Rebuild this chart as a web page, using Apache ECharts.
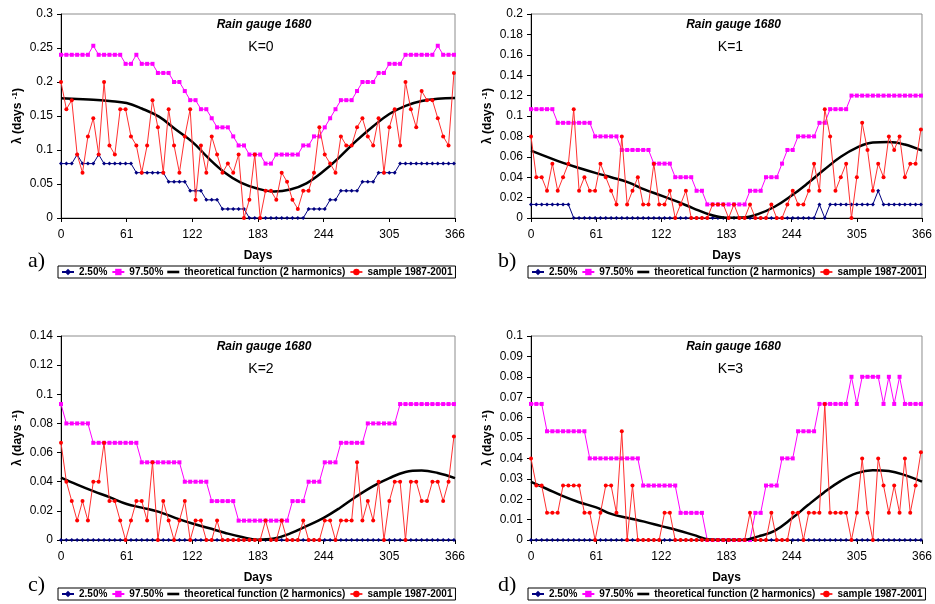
<!DOCTYPE html>
<html><head><meta charset="utf-8">
<script src="https://cdn.jsdelivr.net/npm/echarts@6/dist/echarts.min.js"></script>
<style>html,body{margin:0;padding:0;background:#fff}#c{width:935px;height:604px}</style>
</head><body><div id="c"></div>
<script>
// ---- data ----
const days = [0,5,10,15,20,25,30,35,40,45,50,55,60,65,70,75,80,85,90,95,100,105,110,115,120,125,130,135,140,145,150,155,160,165,170,175,180,185,190,195,200,205,210,215,220,225,230,235,240,245,250,255,260,265,270,275,280,285,290,295,300,305,310,315,320,325,330,335,340,345,350,355,360,365];
const xTicks = [0,61,122,183,244,305,366];
const seriesNames = ['2.50%','97.50%','theoretical function (2 harmonics)','sample 1987-2001'];
const panelTitles = ['K=0','K=1','K=2','K=3'];
const panelLetters = ['a)','b)','c)','d)'];
const theoDays = [0,15,30,45,61,75,91,106,122,137,152,167,183,198,213,228,244,259,274,290,305,320,335,350,366];

// K=0
const aLow = [0.08,0.08,0.08,0.0933,0.08,0.08,0.08,0.0933,0.08,0.08,0.08,0.08,0.08,0.08,
 0.0667,0.0667,0.0667,0.0667,0.0667,0.0667,0.0533,0.0533,0.0533,0.0533,0.04,0.04,0.04,
 0.0267,0.0267,0.0267,0.0133,0.0133,0.0133,0.0133,0.0133,0,0,0,0,0,0,0,0,0,0,0,
 0.0133,0.0133,0.0133,0.0133,0.0267,0.0267,0.04,0.04,0.04,0.04,0.0533,0.0533,0.0533,
 0.0667,0.0667,0.0667,0.0667,0.08,0.08,0.08,0.08,0.08,0.08,0.08,0.08,0.08,0.08,0.08];
const aHigh = [0.24,0.24,0.24,0.24,0.24,0.24,0.2533,0.24,0.24,0.24,0.24,0.24,0.2267,0.2267,0.24,
 0.2267,0.2267,0.2267,0.2133,0.2133,0.2133,0.2,0.2,0.1867,0.1733,0.1733,0.16,0.16,0.1467,
 0.1333,0.1333,0.1333,0.12,0.1067,0.1067,0.0933,0.0933,0.0933,0.08,0.08,
 0.0933,0.0933,0.0933,0.0933,0.0933,0.1067,0.1067,0.12,0.12,0.1333,0.1467,0.16,
 0.1733,0.1733,0.1733,0.1867,0.2,0.2,0.2,0.2133,0.2133,0.2267,0.2267,0.2267,
 0.24,0.24,0.24,0.24,0.24,0.24,0.2533,0.24,0.24,0.24];
const aTheo = [0.176,0.175,0.174,0.172,0.169,0.161,0.149,0.131,0.112,0.088,0.067,0.052,0.043,0.039,0.042,0.051,0.069,0.09,0.113,0.135,0.153,0.165,0.172,0.1755,0.1765];
const aSample = [0.2,0.16,0.1733,0.0933,0.0667,0.12,0.1467,0.0933,0.2,0.1067,
 0.0933,0.16,0.16,0.12,0.1067,0.0667,0.1067,0.1733,0.1333,0.0667,
 0.16,0.1067,0.0667,0.12,0.16,0.0267,0.1067,0.0667,0.12,0.0933,
 0.0667,0.08,0.0667,0.0933,0,0.0267,0.0933,0,0.04,0.04,
 0.0267,0.0667,0.0533,0.0267,0.0133,0.04,0.04,0.0667,0.1333,0.0933,
 0.08,0.0667,0.12,0.1067,0.1067,0.1333,0.1467,0.12,0.1067,0.1467,
 0.0667,0.1333,0.16,0.1067,0.2,0.16,0.1333,0.1867,0.1733,0.1733,
 0.1467,0.12,0.1067,0.2133];

// K=1
const bLow = [0.0133,0.0133,0.0133,0.0133,0.0133,0.0133,0.0133,0.0133,
 0,0,0,0,0,0,0,0,0,0,0,0,0,0,0,0,0,0,0,0,0,0,0,0,0,0,0,0,0,0,0,0,0,0,0,0,0,0,0,0,0,0,0,0,0,0,
 0.0133,0,0.0133,0.0133,0.0133,0.0133,0.0133,0.0133,0.0133,0.0133,0.0133,0.0267,
 0.0133,0.0133,0.0133,0.0133,0.0133,0.0133,0.0133,0.0133];
const bHigh = [0.1067,0.1067,0.1067,0.1067,0.1067,0.0933,0.0933,0.0933,0.0933,0.0933,0.0933,0.0933,
 0.08,0.08,0.08,0.08,0.08,0.0667,0.0667,0.0667,0.0667,0.0667,0.0667,0.0533,0.0533,0.0533,0.0533,
 0.04,0.04,0.04,0.04,0.0267,0.0267,0.0133,0.0133,0.0133,0.0133,0.0133,0.0133,0.0133,0.0133,
 0.0267,0.0267,0.0267,0.04,0.04,0.04,0.0533,0.0667,0.0667,0.08,0.08,0.08,0.08,0.0933,0.0933,
 0.1067,0.1067,0.1067,0.1067,0.12,0.12,0.12,0.12,0.12,0.12,0.12,0.12,0.12,0.12,0.12,0.12,0.12,0.12];
const bTheo = [0.066,0.06,0.054,0.049,0.044,0.04,0.035,0.028,0.022,0.016,0.0095,0.0035,0.0003,0.0005,0.004,0.011,0.022,0.034,0.047,0.06,0.069,0.074,0.0745,0.072,0.066];
const bSample = [0.08,0.04,0.04,0.0267,0.0533,0.0267,0.04,0.0533,0.1067,0.0267,
 0.04,0.0267,0.0267,0.0533,0.04,0.0267,0.0133,0.08,0.0133,0.0267,
 0.04,0.0133,0.0133,0.0533,0.0133,0.0133,0.0267,0,0.0133,0.0267,
 0,0,0,0,0.0133,0.0133,0.0133,0,0.0133,0,
 0,0.0133,0,0,0,0.0133,0,0,0.0133,0.0267,
 0.0133,0.0133,0.0267,0.0533,0.0267,0.1067,0.08,0.0267,0.04,0.0533,
 0,0.04,0.0933,0.0667,0.0267,0.0533,0.04,0.08,0.0667,0.08,
 0.04,0.0533,0.0533,0.0867];

// K=2
const cLow = [0,0,0,0,0,0,0,0,0,0,0,0,0,0,0,0,0,0,0,0,0,0,0,0,0,0,0,0,0,0,0,0,0,0,0,0,0,
 0,0,0,0,0,0,0,0,0,0,0,0,0,0,0,0,0,0,0,0,0,0,0,0,0,0,0,0,0,0,0,0,0,0,0,0,0];
const cHigh = [0.0933,0.08,0.08,0.08,0.08,0.08,0.0667,0.0667,0.0667,0.0667,0.0667,0.0667,0.0667,0.0667,0.0667,
 0.0533,0.0533,0.0533,0.0533,0.0533,0.0533,0.0533,0.0533,0.04,0.04,0.04,0.04,0.04,
 0.0267,0.0267,0.0267,0.0267,0.0267,0.0133,0.0133,0.0133,0.0133,0.0133,0.0133,0.0133,0.0133,0.0133,0.0133,
 0.0267,0.0267,0.0267,0.04,0.04,0.04,0.0533,0.0533,0.0533,0.0667,0.0667,0.0667,0.0667,0.0667,
 0.08,0.08,0.08,0.08,0.08,0.08,0.0933,0.0933,0.0933,0.0933,0.0933,0.0933,0.0933,0.0933,0.0933,0.0933,0.0933];
const cTheo = [0.0428,0.038,0.0335,0.0294,0.0247,0.0222,0.0193,0.0152,0.0113,0.0082,0.005,0.0022,0.0002,0.001,0.0045,0.0095,0.0152,0.022,0.0297,0.037,0.0425,0.0467,0.0477,0.046,0.0425];
const cSample = [0.0667,0.04,0.0267,0.0133,0.0267,0.0133,0.04,0.04,0.0667,0.0267,
 0.0267,0.0133,0,0.0133,0.0267,0.0267,0.0133,0.0533,0,0.0267,
 0.0133,0,0.0133,0.0267,0,0.0133,0.0133,0,0,0.0133,
 0,0,0,0,0,0,0,0,0.0133,0,
 0,0.0133,0,0,0,0.0133,0,0,0,0.0133,
 0.0133,0,0.0133,0.0133,0.0133,0.0533,0.0133,0.0267,0.0133,0.04,
 0,0.0267,0.04,0.04,0,0.04,0.04,0.0267,0.0267,0.04,
 0.04,0.0267,0.04,0.071];

// K=3
const dLow = [0,0,0,0,0,0,0,0,0,0,0,0,0,0,0,0,0,0,0,0,0,0,0,0,0,0,0,0,0,0,0,0,0,0,0,0,0,
 0,0,0,0,0,0,0,0,0,0,0,0,0,0,0,0,0,0,0,0,0,0,0,0,0,0,0,0,0,0,0,0,0,0,0,0,0];
const dHigh = [0.0667,0.0667,0.0667,0.0533,0.0533,0.0533,0.0533,0.0533,0.0533,0.0533,0.0533,
 0.04,0.04,0.04,0.04,0.04,0.04,0.04,0.04,0.04,0.04,0.0267,0.0267,0.0267,0.0267,0.0267,0.0267,0.0267,
 0.0133,0.0133,0.0133,0.0133,0.0133,0,0,0,0,0,0,0,0,0,0.0133,0.0133,0.0267,0.0267,0.0267,
 0.04,0.04,0.04,0.0533,0.0533,0.0533,0.0533,0.0667,0.0667,0.0667,0.0667,0.0667,0.0667,
 0.08,0.0667,0.08,0.08,0.08,0.08,0.0667,0.08,0.0667,0.08,0.0667,0.0667,0.0667,0.0667];
const dTheo = [0.0285,0.025,0.0215,0.0185,0.016,0.0128,0.0108,0.009,0.0068,0.0048,0.0025,0.0002,0,0,0.0018,0.0045,0.0105,0.017,0.0232,0.029,0.0328,0.0342,0.0338,0.0318,0.0286];
const dSample = [0.04,0.0267,0.0267,0.0133,0.0133,0.0133,0.0267,0.0267,0.0267,0.0267,
 0.0133,0.0133,0,0.0133,0.0267,0.0267,0.0133,0.0533,0,0.0267,
 0,0,0,0,0,0.0133,0.0133,0,0,0,
 0,0,0,0,0,0,0,0,0,0,
 0,0.0133,0,0,0,0.0133,0,0,0,0.0133,
 0.0133,0,0.0133,0.0133,0.0133,0.0667,0.0133,0.0133,0.0133,0.0133,
 0,0.0133,0.04,0.0133,0,0.04,0.0267,0.0133,0.0267,0.0133,
 0.04,0.0133,0.0267,0.043];

const yMax = [0.3,0.2,0.14,0.1];
const yStep = [0.05,0.02,0.02,0.01];

// ---- layout ----
const FONT = '"Liberation Sans", Arial, sans-serif';
const grids = [
  {left:61, top:14, width:394, height:204},
  {left:531, top:14, width:393, height:204},
  {left:61, top:336, width:394, height:204},
  {left:531, top:336, width:393, height:204}
];
const data = [
  [aLow,aHigh,aTheo,aSample],
  [bLow,bHigh,bTheo,bSample],
  [cLow,cHigh,cTheo,cSample],
  [dLow,dHigh,dTheo,dSample]
];

const legendData = [
  {name: seriesNames[0]},
  {name: seriesNames[1]},
  {name: seriesNames[2], icon:'path://M0 0H12V2.6H0Z'},
  {name: seriesNames[3]}
];

const option = {
  animation:false,
  backgroundColor:'#fff',
  grid: grids.map(g => Object.assign({show:true, borderColor:'#8c8c8c', borderWidth:1, backgroundColor:'rgba(0,0,0,0)'}, g)),
  xAxis: grids.map((g,k) => ({
    type:'value', gridIndex:k, min:0, max:366, interval:61,
    axisLine:{show:true, onZero:false, lineStyle:{color:'#000', width:1}},
    axisTick:{show:true, length:4, lineStyle:{color:'#000'}},
    axisLabel:{fontSize:12, color:'#000', margin:11, fontFamily:FONT},
    splitLine:{show:false},
    name:'Days', nameLocation:'middle', nameGap:32,
    nameTextStyle:{fontSize:12, fontWeight:'bold', color:'#000', fontFamily:FONT}
  })),
  yAxis: grids.map((g,k) => ({
    type:'value', gridIndex:k, min:0, max:yMax[k], interval:yStep[k],
    axisLine:{show:true, onZero:false, lineStyle:{color:'#000', width:1}},
    axisTick:{show:true, length:4, lineStyle:{color:'#000'}},
    axisLabel:{fontSize:12, color:'#000', margin:8, fontFamily:FONT},
    splitLine:{show:false},
    name:'λ (days {sup|-1})', nameLocation:'middle', nameRotate:90, nameGap:36,
    nameTextStyle:{fontSize:12, fontWeight:'bold', color:'#000', fontFamily:FONT,
      rich:{sup:{fontSize:8, fontWeight:'bold', color:'#000', fontFamily:FONT, verticalAlign:'top', padding:[0,0,6,0]}}}
  })),
  legend: grids.map((g,k) => ({
    data: legendData.map(o => Object.assign({}, o)),
    left: g.left - 3, top: g.top + 252,
    orient:'horizontal', itemWidth:12, itemHeight:8, itemGap:4,
    padding:[1,3], borderColor:'#000', borderWidth:1, selectedMode:false,
    textStyle:{fontSize:10, fontWeight:'bold', color:'#000', fontFamily:FONT}
  })),
  graphic: [],
  series: []
};

grids.forEach((g,k) => {
  const cx = g.left + g.width/2 + 6;
  option.graphic.push({type:'text', x: cx, y: g.top + 11, silent:true,
    style:{text:'Rain gauge 1680', align:'center', verticalAlign:'middle', textAlign:'center', textVerticalAlign:'middle',
      fontSize:12, fontWeight:'bold', fontStyle:'italic', fontFamily:FONT, fill:'#000'}});
  option.graphic.push({type:'text', x: cx - 3, y: g.top + 33, silent:true,
    style:{text: panelTitles[k], align:'center', verticalAlign:'middle', textAlign:'center', textVerticalAlign:'middle',
      fontSize:14, fontFamily:FONT, fill:'#000'}});
  option.graphic.push({type:'text', x: g.left - 33, y: g.top + (k<2 ? 247 : 249), silent:true,
    style:{text: panelLetters[k], align:'left', verticalAlign:'middle', textAlign:'left', textVerticalAlign:'middle',
      fontSize:22, fontFamily:'"Liberation Serif", "Times New Roman", serif', fill:'#000'}});

  const [low, high, theo, sample] = data[k];
  option.series.push({
    name: seriesNames[0], type:'line', xAxisIndex:k, yAxisIndex:k,
    data: days.map((d,i) => [d, low[i]]),
    symbol:'diamond', symbolSize:4, itemStyle:{color:'#000080'},
    lineStyle:{color:'#000080', width:1}, z:2
  });
  option.series.push({
    name: seriesNames[1], type:'line', xAxisIndex:k, yAxisIndex:k,
    data: days.map((d,i) => [d, high[i]]),
    symbol:'rect', symbolSize:4, itemStyle:{color:'#ff00ff'},
    lineStyle:{color:'#ff00ff', width:1}, z:3
  });
  option.series.push({
    name: seriesNames[2], type:'line', xAxisIndex:k, yAxisIndex:k,
    data: theoDays.map((d,i) => [d, theo[i]]),
    symbol:'none', showSymbol:false, smooth:0.4, itemStyle:{color:'#000'},
    lineStyle:{color:'#000', width:2.5}, z:4
  });
  option.series.push({
    name: seriesNames[3], type:'line', xAxisIndex:k, yAxisIndex:k,
    data: days.map((d,i) => [d, sample[i]]),
    symbol:'circle', symbolSize:4, itemStyle:{color:'#ff0000'},
    lineStyle:{color:'#ff3030', width:1}, z:5
  });
});

const chart = echarts.init(document.getElementById('c'), null, {renderer:'canvas'});
chart.setOption(option);
</script>
</body></html>
